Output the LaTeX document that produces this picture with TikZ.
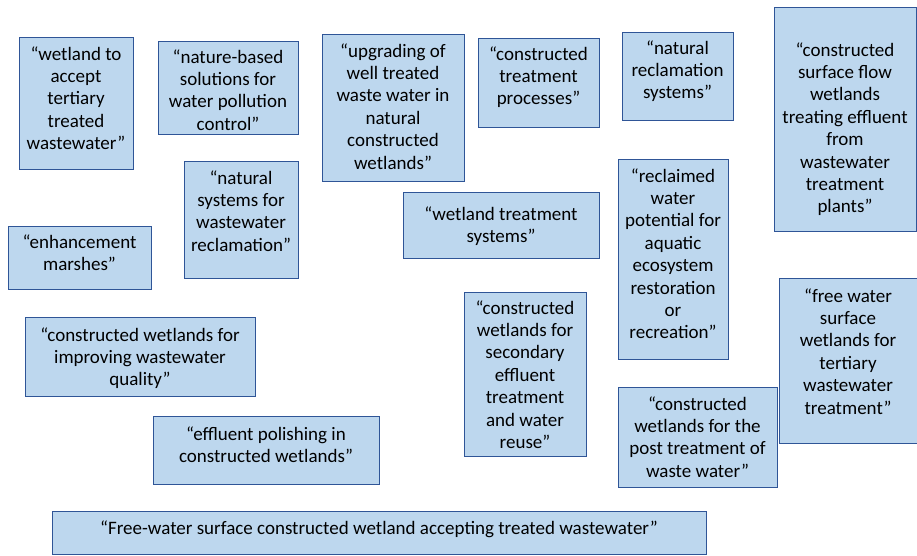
\documentclass[tikz,border=0pt]{standalone}
\usepackage{fontspec}
\setmainfont{Carlito}
\usetikzlibrary{calc}
\definecolor{boxfill}{HTML}{BDD7EE}
\definecolor{boxline}{HTML}{2F5597}
\tikzset{
  qbox/.style={draw=boxline, fill=boxfill, line width=0.9pt, inner sep=0pt, outer sep=0pt, anchor=north west},
  qtext/.style={anchor=north, inner sep=0pt, align=center, text=black, font=\fontsize{19}{22.4}\selectfont}
}
\newcommand{\qb}[7]{%
  \node[qbox, minimum width={(#4-#2)*1pt}, minimum height={(#5-#3)*1pt}] (#1) at (#2,#3) {};
  \node[qtext] (#1t) at ($(#1.north)+(0,#6-7.2)$) {\rule{0pt}{14pt}#7};
}
\begin{document}
\begin{tikzpicture}[x=1pt,y=-1pt]
\useasboundingbox (0,0) rectangle (917,555);
\qb{A}{19}{37}{133}{169}{16}{“wetland to\\accept\\tertiary\\treated\\wastewater”}
\qb{B}{158}{41}{298}{134}{15}{“nature-based\\solutions for\\water pollution\\control”}
\qb{C}{322}{34}{464}{181}{16}{“upgrading of\\well treated\\waste water in\\natural\\constructed\\wetlands”}
\qb{D}{478}{38}{599}{127}{15}{“constructed\\treatment\\processes”}
\qb{E}{622}{32}{733}{120}{15}{“natural\\reclamation\\systems”}
\qb{F}{774}{7}{916}{231}{42}{“constructed\\surface flow\\wetlands\\treating effluent\\from\\wastewater\\treatment\\plants”}
\qb{G}{184}{161}{298}{278}{16}{“natural\\systems for\\wastewater\\reclamation”}
\qb{H}{403}{192}{599}{258}{21}{“wetland treatment\\systems”}
\qb{I}{8}{226}{151}{289}{15}{“enhancement\\marshes”}
\qb{J}{618}{159}{728}{359}{16}{“reclaimed\\water\\potential for\\aquatic\\ecosystem\\restoration\\or\\recreation”}
\qb{K}{779}{278}{917}{443}{17}{“free water\\surface\\wetlands for\\tertiary\\wastewater\\treatment”}
\qb{L}{25}{317}{255}{396}{17}{“constructed wetlands for\\improving wastewater\\quality”}
\qb{M}{464}{292}{586}{456}{15}{“constructed\\wetlands for\\secondary\\effluent\\treatment\\and water\\reuse”}
\qb{N}{153}{416}{379}{484}{17}{“effluent polishing in\\constructed wetlands”}
\qb{O}{618}{387}{777}{487}{16}{“constructed\\wetlands for the\\post treatment of\\waste water”}
\qb{P}{52}{511}{706}{554}{16}{“Free-water surface constructed wetland accepting treated wastewater”}
\end{tikzpicture}
\end{document}
